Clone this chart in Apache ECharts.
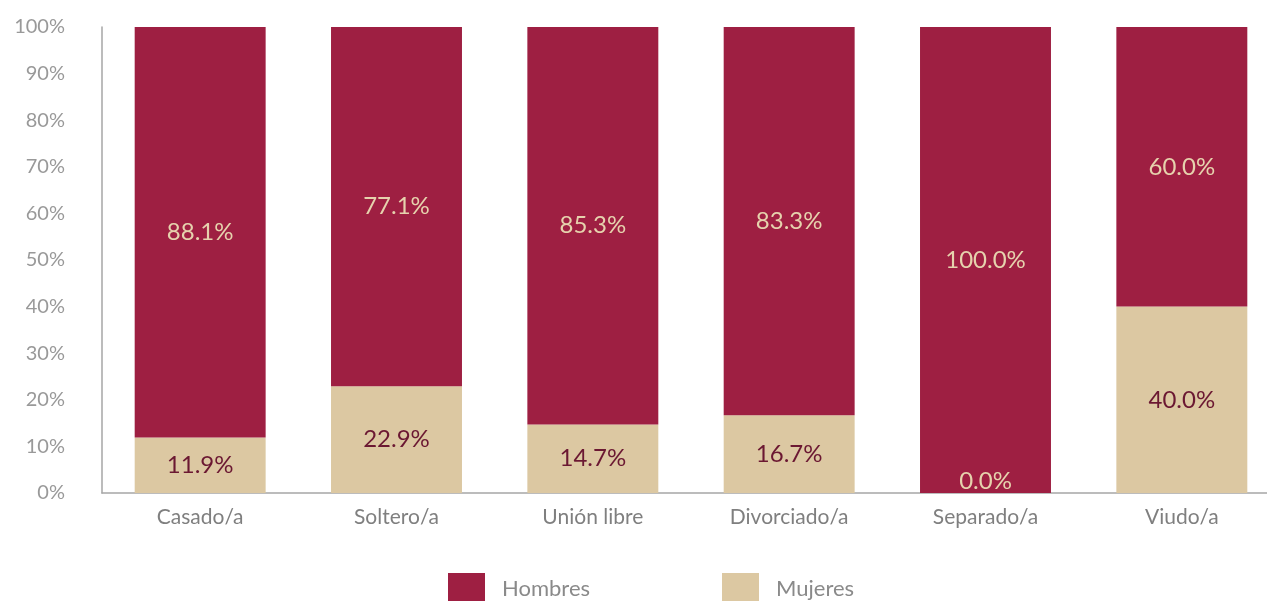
<!DOCTYPE html>
<html>
<head>
<meta charset="utf-8">
<script src="https://cdn.jsdelivr.net/npm/echarts@6/dist/echarts.min.js"></script>
<style>
  html, body { margin: 0; padding: 0; background: #fff; overflow: hidden; }
  #chart { width: 1290px; height: 601px; }
</style>
</head>
<body>
<div id="chart"></div>
<script>
// estado civil
const categories = ['Casado/a', 'Soltero/a', 'Unión libre', 'Divorciado/a', 'Separado/a', 'Viudo/a'];
const hombres = [88.1, 77.1, 85.3, 83.3, 100.0, 60.0];
const mujeres = [11.9, 22.9, 14.7, 16.7, 0.0, 40.0];
const yTicks = [0, 10, 20, 30, 40, 50, 60, 70, 80, 90, 100];

const RED = '#9e1f42';
const BEIGE = '#dcc8a2';
const FONT = 'Lato, "Open Sans", sans-serif';

let chart = echarts.init(document.getElementById('chart'));

// the zero bar gets its label drawn above the axis, in beige
let mujeresData = mujeres.map(function (v) {
  if (v === 0) {
    return { value: v, label: { position: 'top', distance: 0, color: '#e6d2ad' } };
  }
  return v;
});

let option = {
  animation: false,
  textStyle: { fontFamily: FONT },
  grid: { left: 102, top: 27, width: 1178, height: 466 },
  legend: [
    {
      left: 443, top: 568,
      itemWidth: 37, itemHeight: 32, itemGap: 0,
      icon: 'rect',
      data: ['Hombres'],
      textStyle: { color: '#8a8a8a', fontSize: 22, fontFamily: FONT, padding: [0, 0, 0, 12] }
    },
    {
      left: 717, top: 568,
      itemWidth: 37, itemHeight: 32, itemGap: 0,
      icon: 'rect',
      data: ['Mujeres'],
      textStyle: { color: '#8a8a8a', fontSize: 22, fontFamily: FONT, padding: [0, 0, 0, 12] }
    }
  ],
  xAxis: {
    type: 'category',
    data: categories,
    axisLine: { lineStyle: { color: '#a6a6a6', width: 1.5 } },
    axisTick: { show: false },
    axisLabel: { color: '#7f7f7f', fontSize: 21, fontFamily: FONT, margin: 14 }
  },
  yAxis: {
    type: 'value',
    min: yTicks[0],
    max: yTicks[yTicks.length - 1],
    interval: 10,
    axisLine: { show: true, lineStyle: { color: '#a6a6a6', width: 1.5 } },
    axisTick: { show: false },
    splitLine: { show: false },
    axisLabel: {
      color: '#999999', fontSize: 20, fontFamily: FONT, margin: 37,
      formatter: function (v) { return v + '%'; }
    }
  },
  series: [
    {
      name: 'Mujeres',
      type: 'bar',
      stack: 'total',
      barCategoryGap: '33.3%',
      itemStyle: { color: BEIGE },
      label: {
        show: true, position: 'inside',
        color: '#6b1832', fontSize: 24, fontFamily: FONT,
        formatter: function (p) { return p.value.toFixed(1) + '%'; }
      },
      data: mujeresData
    },
    {
      name: 'Hombres',
      type: 'bar',
      stack: 'total',
      barCategoryGap: '33.3%',
      itemStyle: { color: RED },
      label: {
        show: true, position: 'inside',
        color: '#e6d2ad', fontSize: 24, fontFamily: FONT,
        formatter: function (p) { return p.value.toFixed(1) + '%'; }
      },
      data: hombres
    }
  ]
};

chart.setOption(option);
</script>
</body>
</html>
